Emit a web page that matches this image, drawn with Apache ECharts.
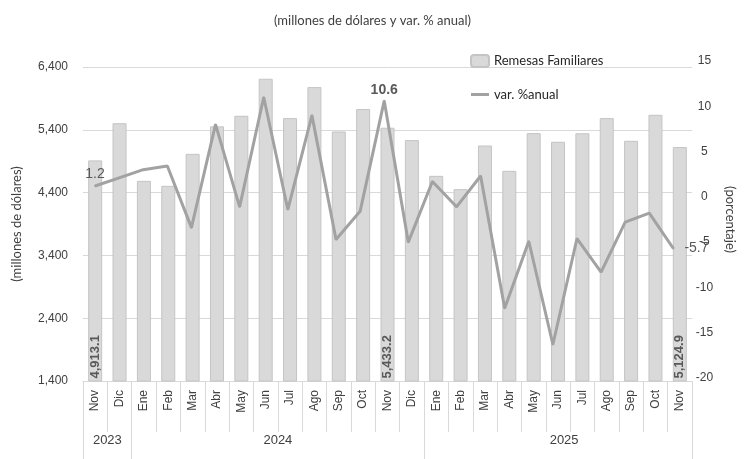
<!DOCTYPE html>
<html>
<head>
<meta charset="utf-8">
<script src="https://cdn.jsdelivr.net/npm/echarts@6/dist/echarts.min.js"></script>
<style>
  html, body { margin: 0; padding: 0; background: #fff; }
  #chart { width: 745px; height: 459px; }
</style>
</head>
<body>
<div id="chart"></div>
<script>
  // meses (nov 2023 - nov 2025)
  var months = ['Nov', 'Dic', 'Ene', 'Feb', 'Mar', 'Abr', 'May', 'Jun', 'Jul', 'Ago', 'Sep', 'Oct', 'Nov', 'Dic',
    'Ene', 'Feb', 'Mar', 'Abr', 'May', 'Jun', 'Jul', 'Ago', 'Sep', 'Oct', 'Nov'];
  var years = ['2023', '2024', '2025'];
  var yearCenters = [1, 8, 19.75];   // posición del rótulo de año, en unidades de categoría
  var yearBounds = [0, 2, 14, 25];

  // remesas familiares, millones de dólares
  var remesas = [4913.1, 5505, 4587, 4508, 5017, 5455, 5623, 6213, 5586, 6080, 5373, 5730, 5433.2, 5236,
    4667, 4455, 5150, 4747, 5347, 5209, 5345, 5586, 5225, 5639, 5124.9];
  // variación % anual
  var variacion = [1.2, 2.1, 3.0, 3.4, -3.4, 8.0, -1.1, 11.0, -1.4, 9.0, -4.7, -1.6, 10.6, -5.0,
    1.7, -1.1, 2.3, -12.3, -4.9, -16.3, -4.6, -8.3, -2.8, -1.8, -5.7];
  var barLabelIdx = [0, 12, 24];

  var chart = echarts.init(document.getElementById('chart'));
  var txt = '#404040';
  var grid = '#d9d9d9';
  var font = 'Liberation Sans';

  var fmtMiles = function (v) {
    return v.toLocaleString('en-US');
  };

  var barData = remesas.map(function (v, i) {
    if (barLabelIdx.indexOf(i) < 0) return v;
    return {
      value: v,
      label: {
        show: true,
        rotate: 90,
        position: 'insideBottom',
        align: 'left',
        verticalAlign: 'middle',
        distance: 3,
        fontFamily: font,
        fontSize: 13,
        fontWeight: 'bold',
        color: '#595959',
        formatter: function (p) {
          return p.value.toLocaleString('en-US', {minimumFractionDigits: 1, maximumFractionDigits: 1});
        }
      }
    };
  });

  var lineLabels = {
    0: {position: 'top', distance: 4, fontWeight: 'normal'},
    12: {position: 'top', distance: 3, fontWeight: 'bold'},
    24: {position: 'right', distance: 10, fontWeight: 'normal'}
  };
  var lineData = variacion.map(function (v, i) {
    var l = lineLabels[i];
    if (!l) return v;
    return {
      value: v,
      label: {
        show: true,
        position: l.position,
        distance: l.distance,
        fontFamily: font,
        fontSize: 14,
        fontWeight: l.fontWeight,
        color: '#595959'
      }
    };
  });

  chart.setOption({
    backgroundColor: '#fff',
    animation: false,
    title: {
      text: '(millones de dólares y var. % anual)',
      left: 'center',
      top: 9,
      textStyle: {fontFamily: 'Lato', fontSize: 13, fontWeight: 'normal', color: txt}
    },
    legend: {
      orient: 'vertical',
      left: 465,
      top: 49,
      itemWidth: 18,
      itemHeight: 12,
      itemGap: 20,
      data: [
        {name: 'Remesas Familiares'},
        {name: 'var. %anual', icon: 'path://M0,0L18,0L18,3L0,3Z'}
      ],
      textStyle: {fontFamily: 'Lato', fontSize: 13, color: '#262626'}
    },
    grid: [
      {left: 83, right: 53, top: 67, bottom: 78},
      {left: 83, right: 53, top: 61, bottom: 81}
    ],
    xAxis: [
      {
        type: 'category',
        gridIndex: 0,
        data: months,
        axisLine: {lineStyle: {color: grid}},
        axisTick: {show: true, interval: 0, length: 51, lineStyle: {color: grid}},
        axisLabel: {interval: 0, rotate: 90, margin: 9, fontFamily: font, fontSize: 12, color: txt}
      },
      {
        type: 'value',
        gridIndex: 0,
        position: 'bottom',
        min: 0,
        max: 25,
        axisLine: {show: false},
        splitLine: {show: false},
        axisTick: {show: true, customValues: yearBounds, length: 78, lineStyle: {color: grid}},
        axisLabel: {
          customValues: yearCenters,
          margin: 53,
          fontFamily: font,
          fontSize: 13,
          color: txt,
          formatter: function (v) {
            return years[yearCenters.indexOf(v)];
          }
        }
      },
      {type: 'category', gridIndex: 1, data: months, show: false}
    ],
    yAxis: [
      {
        type: 'value',
        gridIndex: 0,
        position: 'left',
        min: 1400,
        max: 6400,
        interval: 1000,
        axisLine: {show: false},
        axisTick: {show: false},
        splitLine: {lineStyle: {color: grid}},
        axisLabel: {margin: 15, fontFamily: font, fontSize: 12, color: txt, formatter: fmtMiles},
        name: '(millones de dólares)',
        nameLocation: 'middle',
        nameGap: 60,
        nameTextStyle: {fontFamily: 'Lato', fontSize: 13, color: txt}
      },
      {
        type: 'value',
        gridIndex: 1,
        position: 'right',
        min: -20,
        max: 15,
        interval: 5,
        axisLine: {show: false},
        axisTick: {show: false},
        splitLine: {show: false},
        axisLabel: {margin: 19, align: 'center', fontFamily: font, fontSize: 12, color: txt},
        name: '(porcentaje)',
        nameLocation: 'middle',
        nameRotate: -90,
        nameGap: 38,
        nameTextStyle: {fontFamily: 'Lato', fontSize: 13, color: txt}
      }
    ],
    series: [
      {
        name: 'Remesas Familiares',
        type: 'bar',
        xAxisIndex: 0,
        yAxisIndex: 0,
        barWidth: 14,
        itemStyle: {color: '#d9d9d9', borderColor: '#c4c4c4', borderWidth: 1},
        data: barData
      },
      {
        name: 'var. %anual',
        type: 'line',
        xAxisIndex: 2,
        yAxisIndex: 1,
        symbol: 'circle',
        symbolSize: 2,
        itemStyle: {color: '#a2a2a2'},
        lineStyle: {color: '#a2a2a2', width: 3},
        data: lineData
      }
    ]
  });
</script>
</body>
</html>
